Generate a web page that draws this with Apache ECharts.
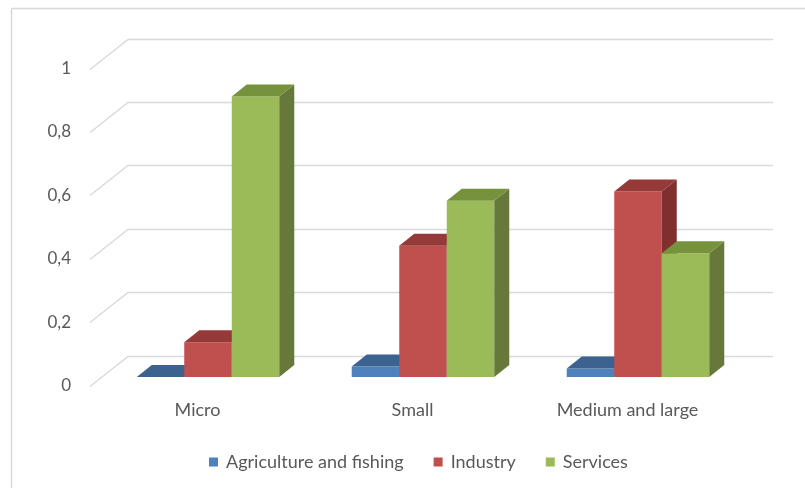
<!DOCTYPE html>
<html>
<head>
<meta charset="utf-8">
<script src="https://cdn.jsdelivr.net/npm/echarts@6/dist/echarts.min.js"></script>
<style>html,body{margin:0;padding:0;background:#fff}#c{width:805px;height:488px}</style>
</head>
<body>
<div id="c"></div>
<script>
const categories = ['Micro', 'Small', 'Medium and large'];
const seriesNames = ['Agriculture and fishing', 'Industry', 'Services'];
const agriculture = [0, 0.033, 0.027];
const industry = [0.11, 0.414, 0.585];
const services = [0.885, 0.556, 0.39];
const yTicks = [0, 0.2, 0.4, 0.6, 0.8, 1];

const FONT = 'Lato';
const TEXT = '#595959';
const BAR_FRAC = 0.221;
const SHIFT_X = 10.5, SHIFT_Y = -8.5;   // bar plane vs floor front
const DX = 15, DY = 12;                 // bar depth
const WX = 38, WY = 30;                 // back wall depth
const palette = [
  {front: '#4f81bd', top: '#3c6290', side: '#385d8a'},
  {front: '#c0504d', top: '#953a38', side: '#7f302e'},
  {front: '#9bbb59', top: '#77923c', side: '#66793a'}
];

function boxRenderer(s) {
  return function (params, api) {
    const cat = api.value(0), val = api.value(1);
    const base = api.coord([cat, 0]);
    const top = api.coord([cat, val]);
    const bw = api.size([1, 0])[0] * BAR_FRAC;
    const x0 = base[0] + SHIFT_X - 1.5 * bw + s * bw;
    const yb = base[1] + SHIFT_Y, yt = top[1] + SHIFT_Y;
    const c = palette[s];
    const children = [];
    if (yb - yt > 0.3) {
      children.push({type: 'rect', shape: {x: x0, y: yt, width: bw, height: yb - yt}, style: {fill: c.front}});
      children.push({type: 'polygon', shape: {points: [[x0 + bw, yt], [x0 + bw + DX, yt - DY], [x0 + bw + DX, yb - DY], [x0 + bw, yb]]}, style: {fill: c.side}});
    }
    children.push({type: 'polygon', shape: {points: [[x0, yt], [x0 + bw, yt], [x0 + bw + DX, yt - DY], [x0 + DX, yt - DY]]}, style: {fill: c.top}});
    return {type: 'group', children: children};
  };
}

function gridRenderer(params, api) {
  const v = api.value(0);
  const p = api.coord([0, v]);
  const cs = params.coordSys;
  const x0 = cs.x, y = Math.round(p[1]) + 0.5;
  return {
    type: 'polyline',
    shape: {points: [[x0, y], [x0 + WX, y - WY], [x0 + cs.width + WX, y - WY]]},
    style: {stroke: '#d9d9d9', lineWidth: 1.3, fill: null}
  };
}

const seriesData = [agriculture, industry, services];
const series = [{
  type: 'custom',
  name: '_grid',
  silent: true,
  z: 1,
  data: yTicks.map(v => [v]),
  encode: {y: 0},
  renderItem: gridRenderer
}];
seriesData.forEach((arr, s) => {
  series.push({
    type: 'custom',
    name: seriesNames[s],
    z: 2 + s,
    itemStyle: {color: palette[s].front},
    data: arr.map((v, i) => [i, v]),
    encode: {x: 0, y: 1},
    renderItem: boxRenderer(s)
  });
});

const chart = echarts.init(document.getElementById('c'), null, {renderer: 'canvas'});
chart.setOption({
  animation: false,
  backgroundColor: '#fff',
  graphic: [
    {type: 'line', shape: {x1: 11.5, y1: 8.5, x2: 805, y2: 8.5}, style: {stroke: '#d9d9d9', lineWidth: 1.5}},
    {type: 'line', shape: {x1: 11.5, y1: 8.5, x2: 11.5, y2: 488}, style: {stroke: '#d9d9d9', lineWidth: 1.5}}
  ],
  grid: {left: 90, right: 70, top: 68.5, bottom: 102.5, containLabel: false},
  xAxis: {
    type: 'category',
    data: categories,
    axisLine: {show: false},
    axisTick: {show: false},
    splitLine: {show: false},
    axisLabel: {color: TEXT, fontFamily: FONT, fontSize: 18, margin: 16}
  },
  yAxis: {
    type: 'value',
    min: 0, max: 1, interval: 0.2,
    axisLine: {show: false},
    axisTick: {show: false},
    splitLine: {show: false},
    axisLabel: {
      color: TEXT, fontFamily: FONT, fontSize: 17, margin: 19,
      formatter: v => String(Math.round(v * 10) / 10).replace('.', ',')
    }
  },
  legend: {
    data: seriesNames,
    left: 204, top: 448,
    icon: 'rect', itemWidth: 9, itemHeight: 9, itemGap: 30,
    textStyle: {color: TEXT, fontFamily: FONT, fontSize: 18, padding: [0, 0, 0, 3]}
  },
  series: series
});
</script>
</body>
</html>
